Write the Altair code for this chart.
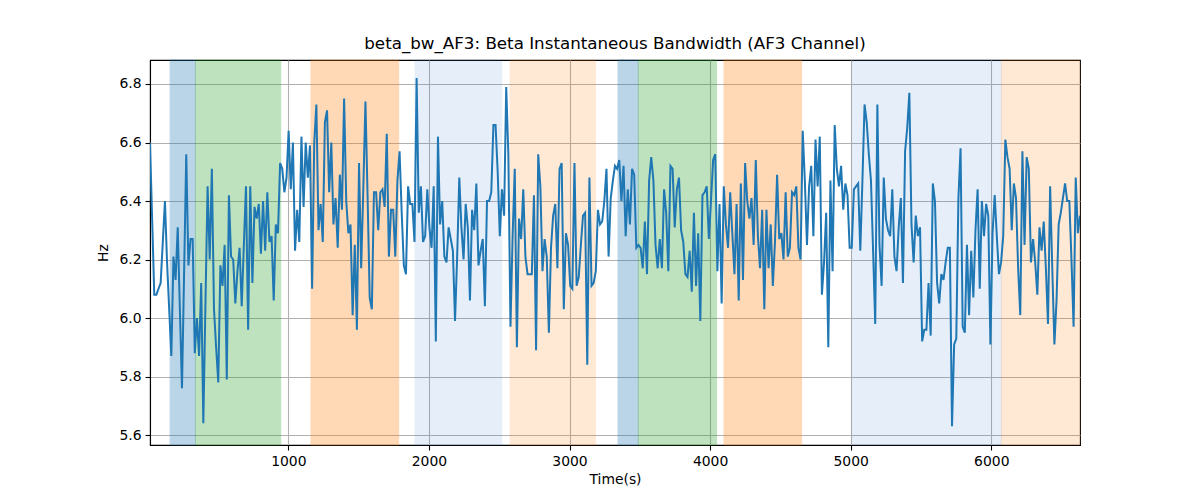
import altair as alt
import pandas as pd
import numpy as np

# ---------------- data ----------------
t_start = 16
t_end = 6631

hz_values = [
    # ~16 s .. ~1060 s
    6.60, 6.34, 6.08, 6.08, 6.10, 6.12, 6.26, 6.40, 6.19, 6.03, 5.87, 6.21, 6.13, 6.31, 6.03, 5.76,
    6.16, 6.56, 6.18, 6.27, 6.27, 5.88, 6.00, 5.87, 6.12, 5.64, 6.05, 6.45, 6.20, 6.51, 6.03, 5.90,
    5.78, 6.18, 6.11, 6.25, 5.79, 6.42, 6.21, 6.20, 6.05, 6.16, 6.24, 6.04, 6.25, 6.45, 5.96, 6.45,
    6.12, 6.38, 6.34, 6.39, 6.22, 6.40, 6.23, 6.43, 6.26, 6.28, 6.06, 6.32, 6.29, 6.53, 6.51, 6.43,
    6.48, 6.64, 6.44, 6.60, 6.23, 6.37,
    # ~1060 s .. ~2200 s
    6.26, 6.62, 6.38, 6.60, 6.48, 6.59, 6.10, 6.60, 6.73, 6.30, 6.39, 6.26, 6.67, 6.71, 6.43, 6.60,
    6.32, 6.41, 6.24, 6.49, 6.37, 6.75, 6.40, 6.29, 6.32, 6.01, 6.25, 5.96, 6.53, 6.17, 6.44, 6.74,
    6.42, 6.07, 6.03, 6.43, 6.43, 6.30, 6.43, 6.44, 6.38, 6.63, 6.21, 6.37, 6.37, 6.21, 6.47, 6.57,
    6.36, 6.18, 6.15, 6.45, 6.39, 6.39, 6.26, 6.82, 6.36, 6.45, 6.26, 6.28, 6.44, 6.31, 6.24, 6.45,
    5.92, 6.62, 6.32, 6.40, 6.21, 6.19, 6.31, 6.27, 6.23, 5.99, 6.21, 6.48,
    # ~2200 s .. ~3170 s
    6.31, 6.20, 6.39, 6.31, 6.06, 6.37, 6.30, 6.46, 6.18, 6.23, 6.27, 6.04, 6.40, 6.40, 6.43, 6.66,
    6.66, 6.50, 6.28, 6.44, 6.35, 6.79, 6.56, 5.97, 6.28, 6.51, 5.90, 6.34, 6.27, 6.44, 6.21, 6.15,
    6.15, 6.15, 6.42, 5.89, 6.56, 6.45, 6.16, 6.27, 6.21, 5.95, 6.24, 6.35, 6.39, 6.17, 6.51, 6.53,
    6.03, 6.29, 6.25, 6.11, 6.10, 6.53, 6.11, 6.14, 6.25, 6.35, 6.36, 5.84, 6.48, 6.11, 6.12, 6.16,
    # ~3170 s .. ~4240 s
    6.37, 6.32, 6.33, 6.40, 6.51, 6.21, 6.41, 6.47, 6.52, 6.51, 6.54, 6.40, 6.52, 6.28, 6.44, 6.32,
    6.51, 6.49, 6.24, 6.25, 6.24, 6.17, 6.33, 6.15, 6.47, 6.55, 6.47, 6.25, 6.17, 6.27, 6.17, 6.44,
    6.36, 6.16, 6.52, 6.51, 6.31, 6.44, 6.48, 6.30, 6.26, 6.15, 6.14, 6.23, 6.09, 6.36, 6.11, 6.29,
    5.99, 6.42, 6.43, 6.45, 6.27, 6.40, 6.54, 6.56, 6.16, 6.39, 6.05, 6.45, 6.32, 6.24, 6.43, 6.29,
    6.15, 6.39, 6.06, 6.46, 6.13, 6.53, 6.40,
    # ~4240 s .. ~5310 s
    6.34, 6.41, 6.25, 6.54, 6.28, 6.17, 6.37, 6.03, 6.37, 6.17, 6.32, 6.11, 6.26, 6.49, 6.27, 6.29,
    6.20, 6.43, 6.21, 6.24, 6.43, 6.42, 6.45, 6.24, 6.20, 6.64, 6.47, 6.25, 6.45, 6.52, 6.28, 6.61,
    6.45, 6.62, 6.08, 6.19, 6.36, 5.90, 6.47, 6.16, 6.66, 6.51, 6.45, 6.52, 6.37, 6.46, 6.42, 6.24,
    6.24, 6.44, 6.45, 6.46, 6.23, 6.47, 6.73, 6.67, 6.56, 6.47, 6.23, 5.98, 6.73, 6.25, 6.11, 6.48,
    6.34, 6.30, 6.28, 6.44, 6.21, 6.16, 6.31, 6.41,
    # ~5310 s .. end
    6.12, 6.57, 6.65, 6.77, 6.32, 6.19, 6.35, 6.28, 6.31, 5.92, 5.96, 5.96, 6.12, 5.94, 6.46, 6.40,
    6.12, 6.05, 6.15, 6.13, 6.19, 6.24, 6.24, 5.63, 5.91, 5.93, 6.41, 6.58, 5.97, 5.95, 6.25, 6.01,
    6.23, 6.07, 6.30, 6.44, 6.10, 6.40, 6.28, 6.39, 6.35, 5.91, 6.29, 6.42, 6.28, 6.15, 6.19, 6.28,
    6.61, 6.55, 6.51, 6.30, 6.46, 6.41, 6.17, 6.01, 6.57, 6.25, 6.55, 6.51, 6.19, 6.27, 6.19, 6.08,
    6.31, 6.23, 6.33, 6.17, 5.98, 6.45, 6.17, 5.91, 6.06, 6.32, 6.36, 6.41, 6.46, 6.40, 6.40, 6.20,
    5.97, 6.48, 6.29, 6.35,
]

band_start = [159, 339, 1161, 1901, 2577, 3345, 3489, 4099, 5009, 6071]
band_end = [339, 946, 1785, 2518, 3186, 3489, 4046, 4651, 6071, 6631]
band_kind = ["b1", "g1", "o1", "b2", "o2", "b1", "g1", "o1", "b2", "o2"]
band_alpha = [0.3, 0.3, 0.3, 0.12, 0.17, 0.3, 0.3, 0.3, 0.12, 0.17]
kind_domain = ["b1", "g1", "o1", "b2", "o2"]
kind_colors = ["#1f77b4", "#2ca02c", "#ff7f0e", "#3b7fd0", "#ff7f0e"]

x_ticks = [1000, 2000, 3000, 4000, 5000, 6000]
y_ticks = [5.6, 5.8, 6.0, 6.2, 6.4, 6.6, 6.8]
y_min, y_max = 5.566, 6.882

# ---------------- tables ----------------
times = np.linspace(t_start, t_end, len(hz_values))
line_df = pd.DataFrame({"t": times, "hz": hz_values})
band_df = pd.DataFrame({"start": band_start, "end": band_end,
                        "kind": band_kind, "alpha": band_alpha})

FONT = "DejaVu Sans"

x_scale = alt.Scale(domain=[t_start, t_end], nice=False, zero=False)
y_scale = alt.Scale(domain=[y_min, y_max], nice=False, zero=False)

axis_style = dict(
    labelFont=FONT, titleFont=FONT, labelFontSize=13.9, titleFontSize=13.9,
    titleFontWeight="normal", labelColor="black", titleColor="black",
    domainColor="black", domainWidth=1.1, tickColor="black", tickSize=5, tickWidth=1.1,
    gridColor="#b0b0b0", gridWidth=1.1, gridOpacity=1, labelPadding=4, labelFlush=False,
    grid=True,
)

x_axis = alt.Axis(values=x_ticks, format="d", title="Time(s)", titlePadding=5, **axis_style)
y_axis = alt.Axis(values=y_ticks, format=".1f", title="Hz", titlePadding=8, **axis_style)

bands = alt.Chart(band_df).mark_rect(strokeWidth=1).encode(
    x=alt.X("start:Q", scale=x_scale, axis=x_axis),
    x2="end:Q",
    y=alt.value(0),
    y2=alt.value(385),
    color=alt.Color("kind:N", scale=alt.Scale(domain=kind_domain, range=kind_colors), legend=None),
    stroke=alt.Stroke("kind:N", scale=alt.Scale(domain=kind_domain, range=kind_colors), legend=None),
    opacity=alt.Opacity("alpha:Q", scale=None),
)

line = alt.Chart(line_df).mark_line(color="#1f77b4", strokeWidth=2, clip=True).encode(
    x=alt.X("t:Q", scale=x_scale, axis=x_axis),
    y=alt.Y("hz:Q", scale=y_scale, axis=y_axis),
)

chart = alt.layer(bands, line).properties(
    width=930,
    height=385,
    background="white",
    padding={"left": 150, "top": 60, "right": 120, "bottom": 55},
    autosize=alt.AutoSizeParams(type="none"),
    title=alt.TitleParams(
        text="beta_bw_AF3: Beta Instantaneous Bandwidth (AF3 Channel)",
        font=FONT, fontSize=16.7, fontWeight="normal", color="black",
        anchor="middle", offset=7,
    ),
).configure_view(
    stroke="black", strokeWidth=1.1
)

chart.save("out.html", embed_options={"renderer": "svg", "actions": False})
